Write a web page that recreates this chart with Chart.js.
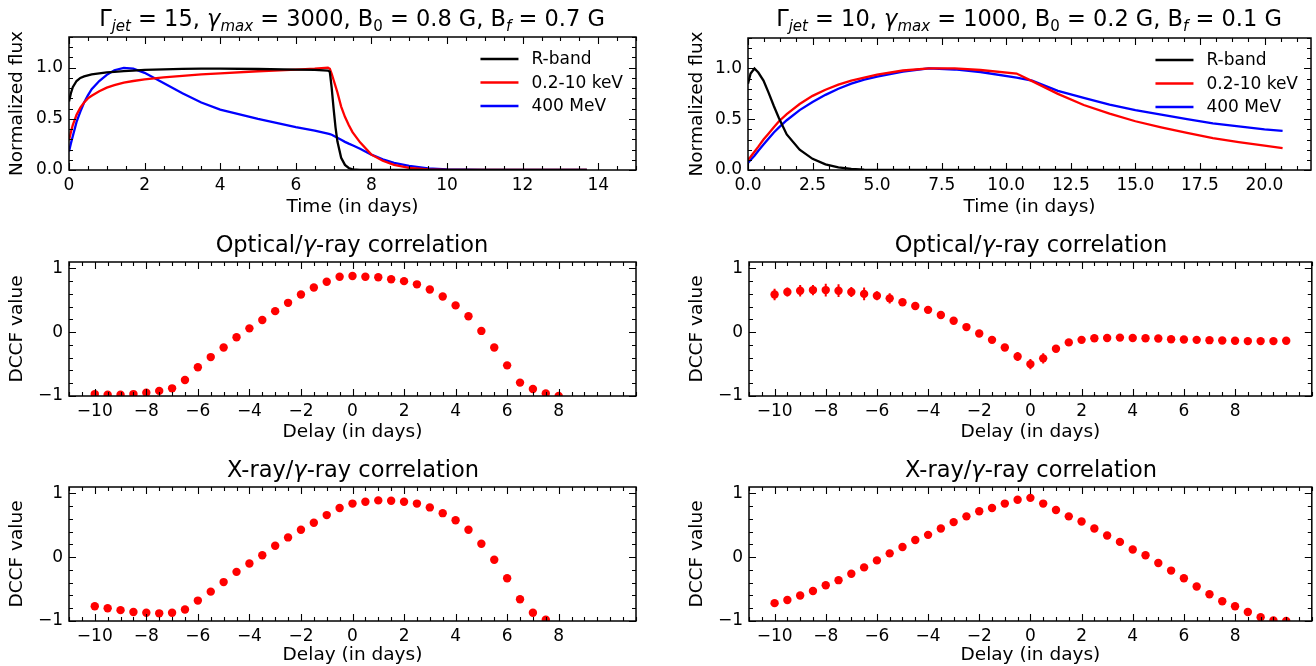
<!DOCTYPE html>
<html>
<head>
<meta charset="utf-8">
<script src="https://cdn.jsdelivr.net/npm/chart.js@4.4.1/dist/chart.umd.min.js"></script>
<style>
body { margin: 0; background: #fff; }
#fig { position: relative; width: 1316px; height: 666px; font-family: "DejaVu Sans", sans-serif; color: #000; }
.panel { position: absolute; width: 658px; height: 222px; }
.ttl { position: absolute; font-size: 22.5px; white-space: nowrap; transform: translate(-50%, -50%); line-height: 26px; }
.ttl sub { font-size: 15px; vertical-align: -5px; line-height: 0; }
</style>
</head>
<body>
<div id="fig">
  <div class="panel" style="left:0;top:0"><canvas id="c1" width="658" height="222"></canvas></div>
  <div class="panel" style="left:658px;top:0"><canvas id="c2" width="658" height="222"></canvas></div>
  <div class="panel" style="left:0;top:222px"><canvas id="c3" width="658" height="222"></canvas></div>
  <div class="panel" style="left:658px;top:222px"><canvas id="c4" width="658" height="222"></canvas></div>
  <div class="panel" style="left:0;top:444px"><canvas id="c5" width="658" height="222"></canvas></div>
  <div class="panel" style="left:658px;top:444px"><canvas id="c6" width="658" height="222"></canvas></div>

  <div class="ttl" style="left:352px;top:18px">Γ<sub><i>jet</i></sub> = 15, <i>γ</i><sub><i>max</i></sub> = 3000, B<sub>0</sub> = 0.8 G, B<sub><i>f</i></sub> = 0.7 G</div>
  <div class="ttl" style="left:1029px;top:18px">Γ<sub><i>jet</i></sub> = 10, <i>γ</i><sub><i>max</i></sub> = 1000, B<sub>0</sub> = 0.2 G, B<sub><i>f</i></sub> = 0.1 G</div>
  <div class="ttl" style="left:352px;top:244px">Optical/<i>γ</i>-ray correlation</div>
  <div class="ttl" style="left:1031px;top:244px">Optical/<i>γ</i>-ray correlation</div>
  <div class="ttl" style="left:353px;top:469px">X-ray/<i>γ</i>-ray correlation</div>
  <div class="ttl" style="left:1031px;top:469px">X-ray/<i>γ</i>-ray correlation</div>
</div>
<script>
// light curves, panel 1 (Gamma_jet = 15)
const p1Time = [0, 0.05, 0.1, 0.2, 0.3, 0.4, 0.5, 0.6, 0.8, 1.0, 1.2, 1.45, 1.7, 2.0, 2.5, 3.0, 3.5, 4.0, 5.0, 6.0,
  6.5, 6.85, 6.9, 6.95, 7.0, 7.05, 7.1, 7.2, 7.3, 7.4, 7.5, 7.7, 8.0, 8.3, 8.6, 9.0, 9.5, 10, 11, 12, 13, 13.7];
const p1R = [0.67, 0.75, 0.81, 0.87, 0.9, 0.915, 0.925, 0.935, 0.945, 0.955, 0.96, 0.967, 0.972, 0.978, 0.984, 0.988, 0.99, 0.99, 0.987, 0.982,
  0.978, 0.972, 0.96, 0.8, 0.6, 0.42, 0.28, 0.12, 0.05, 0.02, 0.006, 0.001, 0, 0, 0, 0, 0, 0, 0, 0, 0, 0];
const p1X = [0.29, 0.37, 0.44, 0.54, 0.61, 0.66, 0.7, 0.725, 0.77, 0.805, 0.83, 0.855, 0.87, 0.885, 0.905, 0.92, 0.935, 0.945, 0.965, 0.982,
  0.99, 1.0, 0.99, 0.94, 0.88, 0.82, 0.76, 0.62, 0.52, 0.44, 0.37, 0.27, 0.15, 0.09, 0.05, 0.02, 0.006, 0.001, 0, 0, 0, 0];
const p1G = [0.18, 0.26, 0.33, 0.47, 0.57, 0.66, 0.73, 0.79, 0.87, 0.93, 0.975, 0.998, 0.99, 0.95, 0.85, 0.75, 0.66, 0.59, 0.5, 0.42,
  0.385, 0.355, 0.35, 0.345, 0.335, 0.325, 0.315, 0.295, 0.275, 0.258, 0.242, 0.208, 0.15, 0.105, 0.07, 0.04, 0.015, 0.005, 0.001, 0, 0, 0];

// light curves, panel 2 (Gamma_jet = 10)
const p2Time = [0, 0.1, 0.25, 0.4, 0.6, 0.8, 1.0, 1.2, 1.5, 2.0, 2.5, 3.0, 3.5, 4.0, 4.5, 5.0, 6.0, 7.0, 8.0, 9.0,
  10.4, 11.0, 12.0, 13.0, 14.0, 15.0, 16.0, 17.0, 18.0, 19.0, 20.0, 20.7];
const p2R = [0.85, 0.95, 1.0, 0.96, 0.88, 0.76, 0.63, 0.51, 0.35, 0.2, 0.11, 0.055, 0.025, 0.01, 0.004, 0.001, 0, 0, 0, 0,
  0, 0, 0, 0, 0, 0, 0, 0, 0, 0, 0, 0];
const p2X = [0.1, 0.13, 0.18, 0.23, 0.3, 0.36, 0.42, 0.48, 0.55, 0.65, 0.73, 0.79, 0.84, 0.88, 0.91, 0.94, 0.98, 1.0, 1.0, 0.985,
  0.95, 0.875, 0.75, 0.64, 0.555, 0.48, 0.42, 0.365, 0.315, 0.275, 0.24, 0.215];
const p2G = [0.07, 0.1, 0.14, 0.19, 0.25, 0.31, 0.37, 0.42, 0.49, 0.59, 0.67, 0.74, 0.8, 0.85, 0.89, 0.92, 0.97, 1.0, 0.99, 0.965,
  0.91, 0.88, 0.78, 0.71, 0.645, 0.59, 0.545, 0.5, 0.46, 0.43, 0.4, 0.385];

// DCCF, delays every 0.5 day
const lags = [-10, -9.5, -9, -8.5, -8, -7.5, -7, -6.5, -6, -5.5, -5, -4.5, -4, -3.5, -3, -2.5, -2, -1.5, -1, -0.5,
  0, 0.5, 1, 1.5, 2, 2.5, 3, 3.5, 4, 4.5, 5, 5.5, 6, 6.5, 7, 7.5, 8, 8.5, 9, 9.5, 10];
const optGammaL = [-0.97, -0.98, -0.98, -0.97, -0.95, -0.92, -0.88, -0.75, -0.55, -0.39, -0.24, -0.08, 0.06, 0.19, 0.33, 0.46, 0.59, 0.70, 0.79, 0.87,
  0.88, 0.87, 0.86, 0.83, 0.80, 0.75, 0.67, 0.56, 0.42, 0.25, 0.02, -0.24, -0.52, -0.79, -0.89, -0.96, -1.0];
const optGammaR = [0.59, 0.63, 0.65, 0.66, 0.66, 0.65, 0.63, 0.60, 0.57, 0.53, 0.47, 0.41, 0.35, 0.27, 0.18, 0.08, -0.02, -0.12, -0.24, -0.38,
  -0.50, -0.41, -0.26, -0.16, -0.12, -0.095, -0.09, -0.085, -0.09, -0.095, -0.10, -0.11, -0.115, -0.12, -0.125, -0.13, -0.135, -0.14, -0.14, -0.14, -0.135];
const optGammaRErr = [0.09, 0.07, 0.09, 0.08, 0.1, 0.1, 0.08, 0.1, 0.07, 0.08, 0.05, 0.06, 0.05, 0.02, 0.02, 0.02, 0.02, 0.02, 0.03, 0.07,
  0.08, 0.08, 0.03, 0.02, 0.02, 0.02, 0.02, 0.02, 0.02, 0.02, 0.02, 0.02, 0.02, 0.02, 0.02, 0.02, 0.02, 0.02, 0.02, 0.02, 0.02];
const xGammaL = [-0.77, -0.80, -0.83, -0.86, -0.87, -0.88, -0.87, -0.82, -0.68, -0.54, -0.39, -0.23, -0.10, 0.03, 0.18, 0.31, 0.43, 0.54, 0.66, 0.77,
  0.84, 0.87, 0.89, 0.885, 0.87, 0.84, 0.78, 0.69, 0.58, 0.43, 0.21, -0.04, -0.33, -0.66, -0.87, -0.98];
const xGammaR = [-0.72, -0.67, -0.60, -0.53, -0.44, -0.36, -0.26, -0.16, -0.05, 0.06, 0.16, 0.27, 0.35, 0.45, 0.55, 0.64, 0.72, 0.77, 0.84, 0.90,
  0.93, 0.84, 0.74, 0.64, 0.56, 0.45, 0.34, 0.24, 0.12, 0.03, -0.09, -0.21, -0.33, -0.46, -0.58, -0.69, -0.77, -0.86, -0.94, -0.99, -1.0];

// tick labels
const fluxTicks = [0, 0.5, 1.0];
const time1Ticks = [0, 2, 4, 6, 8, 10, 12, 14];
const time2Ticks = [0, 2.5, 5, 7.5, 10, 12.5, 15, 17.5, 20];
const delayTicks = [-10, -8, -6, -4, -2, 0, 2, 4, 6, 8];
const dccfTicks = [-1, 0, 1];

const bandLabels = ["R-band", "0.2-10 keV", "400 MeV"];

Chart.defaults.font.family = "'DejaVu Sans', sans-serif";
Chart.defaults.color = "#000";

function steps(from, to, step) {
  const out = [];
  for (let v = from; v <= to + 1e-9; v += step) out.push(Math.round(v * 1000) / 1000);
  return out;
}
const minus = (v) => (v < 0 ? "\u2212" + Math.abs(v) : String(v));

const framePlugin = {
  id: "frame",
  beforeDatasetsDraw(chart, args, o) {
    if (!o.err) return;
    const { ctx, scales: { x, y } } = chart;
    const pts = chart.data.datasets[0].data;
    ctx.save();
    ctx.strokeStyle = "#ff0000";
    ctx.lineWidth = 2;
    ctx.beginPath();
    pts.forEach((p, i) => {
      const px = x.getPixelForValue(p.x);
      ctx.moveTo(px, y.getPixelForValue(p.y - o.err[i]));
      ctx.lineTo(px, y.getPixelForValue(p.y + o.err[i]));
    });
    ctx.stroke();
    ctx.restore();
  },
  afterDatasetsDraw(chart, args, o) {
    const { ctx, chartArea: a, scales: { x, y } } = chart;
    ctx.save();
    ctx.strokeStyle = "#000";
    ctx.lineWidth = 1.1;
    ctx.beginPath();
    const xt = (vals, len) => vals.forEach((v) => {
      const px = Math.round(x.getPixelForValue(v)) + 0.5;
      ctx.moveTo(px, a.bottom); ctx.lineTo(px, a.bottom - len);
      ctx.moveTo(px, a.top); ctx.lineTo(px, a.top + len);
    });
    const yt = (vals, len) => vals.forEach((v) => {
      const py = Math.round(y.getPixelForValue(v)) + 0.5;
      ctx.moveTo(a.left, py); ctx.lineTo(a.left + len, py);
      ctx.moveTo(a.right, py); ctx.lineTo(a.right - len, py);
    });
    xt(o.xMinor, 4); xt(o.xMajor, 7);
    yt(o.yMinor, 4); yt(o.yMajor, 7);
    ctx.stroke();
    ctx.lineWidth = 1.5;
    ctx.strokeRect(a.left, a.top, a.right - a.left, a.bottom - a.top);

    if (o.legend) {
      ctx.font = "17px 'DejaVu Sans', sans-serif";
      ctx.textBaseline = "middle";
      const ds = chart.data.datasets;
      const w = Math.max(...ds.map((d) => ctx.measureText(d.label).width));
      const tx = a.right - 13 - w;
      ds.forEach((d, i) => {
        const ly = a.top + 22 + i * 23.5;
        ctx.strokeStyle = d.borderColor;
        ctx.lineWidth = 2.4;
        ctx.beginPath();
        ctx.moveTo(tx - 51, ly); ctx.lineTo(tx - 13, ly);
        ctx.stroke();
        ctx.fillStyle = "#000";
        ctx.fillText(d.label, tx, ly + 1);
      });
    }
    ctx.restore();
  }
};
Chart.register(framePlugin);

function panel(id, c) {
  const tickFont = { size: 17 };
  const titleFont = { size: 18.5 };
  return new Chart(document.getElementById(id), {
    type: "scatter",
    data: { datasets: c.datasets },
    options: {
      responsive: false,
      animation: false,
      layout: { padding: { top: c.padTop, right: c.padRight, left: 0, bottom: 0 } },
      plugins: {
        legend: { display: false },
        tooltip: { enabled: false },
        frame: {
          xMajor: c.xMajor, xMinor: c.xMinor, yMajor: c.yMajor, yMinor: c.yMinor,
          legend: c.legend || false, err: c.err || null
        }
      },
      scales: {
        x: {
          type: "linear", min: c.xMin, max: c.xMax,
          grid: { display: false, drawTicks: false },
          border: { display: false },
          ticks: { font: tickFont, padding: 5, maxRotation: 0, autoSkip: false, callback: c.xFmt },
          afterBuildTicks: (s) => { s.ticks = c.xMajor.map((v) => ({ value: v })); },
          afterFit: (s) => { s.height = c.xAxisH; },
          title: { display: true, text: c.xTitle, font: titleFont, padding: { top: 0, bottom: c.xTitlePad } }
        },
        y: {
          type: "linear", min: c.yMin, max: c.yMax,
          grid: { display: false, drawTicks: false },
          border: { display: false },
          ticks: { font: tickFont, padding: 6, autoSkip: false, callback: c.yFmt },
          afterBuildTicks: (s) => { s.ticks = c.yMajor.map((v) => ({ value: v })); },
          afterFit: (s) => { s.width = c.yAxisW; },
          title: { display: true, text: c.yTitle, font: titleFont, padding: { top: c.yTitlePad, bottom: 0 } }
        }
      }
    }
  });
}

const curve = (label, color, t, v) => ({
  label, data: v.map((y, i) => ({ x: t[i], y })),
  showLine: true, borderColor: color, borderWidth: 2.3, pointRadius: 0, clip: 0
});
const dots = (v) => ({
  label: "DCCF", data: v.map((y, i) => ({ x: lags[i], y })),
  pointRadius: 4.2, backgroundColor: "#ff0000", borderWidth: 0, clip: 0
});

const flux = (v) => v.toFixed(1);
const fluxMinor = steps(0, 1.3, 0.1).filter((v) => !fluxTicks.includes(v));
const delayMinor = steps(-11, 11, 0.5).filter((v) => !delayTicks.includes(v));
const dccfMinor = steps(-1, 1.1, 0.2).filter((v) => !dccfTicks.includes(v));

const leftCol = { yAxisW: 69, padRight: 22, yTitlePad: 6 };
const rightCol = { yAxisW: 90, padRight: 5, yTitlePad: 28 };

panel("c1", Object.assign({}, leftCol, {
  datasets: [curve(bandLabels[0], "#000000", p1Time, p1R), curve(bandLabels[1], "#ff0000", p1Time, p1X), curve(bandLabels[2], "#0000ff", p1Time, p1G)],
  xMin: 0, xMax: 15, yMin: 0, yMax: 1.3,
  xMajor: time1Ticks, xMinor: steps(0, 15, 0.5).filter((v) => !time1Ticks.includes(v)),
  yMajor: fluxTicks, yMinor: fluxMinor, xFmt: (v) => String(v), yFmt: flux,
  xTitle: "Time (in days)", yTitle: "Normalized flux",
  padTop: 37, xAxisH: 52, xTitlePad: 4, legend: true
}));
panel("c2", Object.assign({}, rightCol, {
  datasets: [curve(bandLabels[0], "#000000", p2Time, p2R), curve(bandLabels[1], "#ff0000", p2Time, p2X), curve(bandLabels[2], "#0000ff", p2Time, p2G)],
  xMin: 0, xMax: 21.8, yMin: 0, yMax: 1.3,
  xMajor: time2Ticks, xMinor: steps(0, 21.8, 0.625).filter((v) => !time2Ticks.includes(v)),
  yMajor: fluxTicks, yMinor: fluxMinor, xFmt: (v) => v.toFixed(1), yFmt: flux,
  xTitle: "Time (in days)", yTitle: "Normalized flux",
  padTop: 38, xAxisH: 52, xTitlePad: 4, legend: true
}));

const dccfCommon = {
  xMin: -11, xMax: 11, yMin: -1, yMax: 1.1,
  xMajor: delayTicks, xMinor: delayMinor, yMajor: dccfTicks, yMinor: dccfMinor,
  xFmt: minus, yFmt: minus, xTitle: "Delay (in days)", yTitle: "DCCF value"
};
panel("c3", Object.assign({}, leftCol, dccfCommon, { datasets: [dots(optGammaL)], padTop: 40, xAxisH: 48, xTitlePad: 1 }));
panel("c4", Object.assign({}, rightCol, dccfCommon, { datasets: [dots(optGammaR)], padTop: 40, xAxisH: 48, xTitlePad: 1, yAxisW: 91, padRight: 4, err: optGammaRErr }));
panel("c5", Object.assign({}, leftCol, dccfCommon, { datasets: [dots(xGammaL)], padTop: 43, xAxisH: 45, xTitlePad: 0 }));
panel("c6", Object.assign({}, rightCol, dccfCommon, { datasets: [dots(xGammaR)], padTop: 43, xAxisH: 45, xTitlePad: 0, yAxisW: 91, padRight: 4 }));
</script>
</body>
</html>
